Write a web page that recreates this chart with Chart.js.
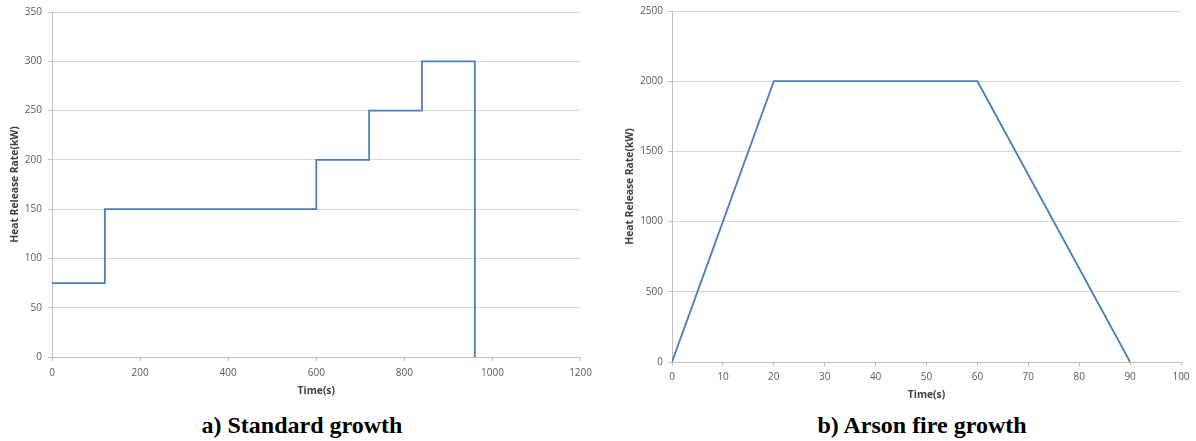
<!DOCTYPE html>
<html>
<head>
<meta charset="utf-8">
<script src="https://cdn.jsdelivr.net/npm/chart.js@4/dist/chart.umd.min.js"></script>
<style>
  html, body { margin: 0; padding: 0; background: #fff; }
  body { width: 1196px; height: 441px; position: relative; overflow: hidden; }
  canvas { position: absolute; top: 0; }
  #leftChart { left: 0; }
  #rightChart { left: 598px; }
  .caption {
    position: absolute; top: 411px; width: 400px; text-align: center;
    font-family: "Liberation Serif", "Times New Roman", serif;
    font-weight: bold; font-size: 24px; color: #000; line-height: 28px;
  }
</style>
</head>
<body>
<canvas id="leftChart" width="598" height="410"></canvas>
<canvas id="rightChart" width="598" height="410"></canvas>
<div class="caption" style="left:102px">a) Standard growth</div>
<div class="caption" style="left:722px">b) Arson fire growth</div>
<script>
// Standard growth: stepped heat release rate
const stdTime = [0, 120, 120, 600, 600, 720, 720, 840, 840, 960, 960];
const stdHrr  = [75, 75, 150, 150, 200, 200, 250, 250, 300, 300, 0];

// Arson fire growth: ramp up, plateau, decay
const arsonTime = [0, 20, 60, 90];
const arsonHrr  = [0, 2000, 2000, 0];

// Axis ranges and tick spacing
const stdXTicks = { min: 0, max: 1200, step: 200 };
const stdYTicks = { min: 0, max: 350, step: 50 };
const arsonXTicks = { min: 0, max: 100, step: 10 };
const arsonYTicks = { min: 0, max: 2500, step: 500 };

const xTitle = 'Time(s)';
const yTitle = 'Heat Release Rate(kW)';

const LINE = '#4A7EBB';
const TICK_TEXT = '#595959';
const GRID = '#d9d9d9';
const AXIS = '#bfbfbf';
const tickFont = { family: '"Open Sans", "Noto Sans", sans-serif', size: 10 };
const titleFont = { family: '"Open Sans", "Noto Sans", sans-serif', size: 10.3, weight: 'bold', lineHeight: 1.2 };

function points(xs, ys) {
  return xs.map((x, i) => ({ x: x, y: ys[i] }));
}

// plain numbers, no thousands separators
const plain = v => String(v);

function makeChart(id, xs, ys, xt, yt, geo) {
  return new Chart(document.getElementById(id), {
    type: 'scatter',
    data: {
      datasets: [{
        data: points(xs, ys),
        showLine: true,
        borderColor: LINE,
        borderWidth: 1.8,
        pointRadius: 0,
        fill: false,
        tension: 0
      }]
    },
    options: {
      responsive: false,
      animation: false,
      events: [],
      layout: { padding: { top: geo.top, right: geo.right, left: 0, bottom: 0 } },
      plugins: { legend: { display: false }, tooltip: { enabled: false } },
      scales: {
        x: {
          type: 'linear',
          min: xt.min, max: xt.max,
          afterFit: s => { s.height = geo.xHeight; },
          ticks: { stepSize: xt.step, color: TICK_TEXT, font: tickFont, padding: geo.xPad, maxRotation: 0, callback: plain },
          grid: { drawOnChartArea: false, drawTicks: true, tickLength: 4, tickColor: AXIS },
          border: { color: AXIS, width: 1 },
          title: { display: true, text: xTitle, color: '#404040', font: titleFont, padding: { top: 0, bottom: geo.xTitlePad } }
        },
        y: {
          type: 'linear',
          min: yt.min, max: yt.max,
          afterFit: s => { s.width = geo.yWidth; },
          ticks: { stepSize: yt.step, color: TICK_TEXT, font: tickFont, padding: geo.yPad, callback: plain },
          grid: { color: GRID, lineWidth: 1, drawTicks: true, tickLength: 4, tickColor: AXIS },
          border: { color: AXIS, width: 1 },
          title: { display: true, text: yTitle, color: '#404040', font: titleFont, padding: { top: geo.yTitlePad, bottom: 0 } }
        }
      }
    }
  });
}

makeChart('leftChart', stdTime, stdHrr, stdXTicks, stdYTicks, {
  top: 11, right: 15, yWidth: 52, xHeight: 53,
  xPad: 6, yPad: 6, xTitlePad: 12.5, yTitlePad: 9
});

makeChart('rightChart', arsonTime, arsonHrr, arsonXTicks, arsonYTicks, {
  top: 11, right: 15, yWidth: 74, xHeight: 48,
  xPad: 5, yPad: 5, xTitlePad: 9, yTitlePad: 26
});
</script>
</body>
</html>
